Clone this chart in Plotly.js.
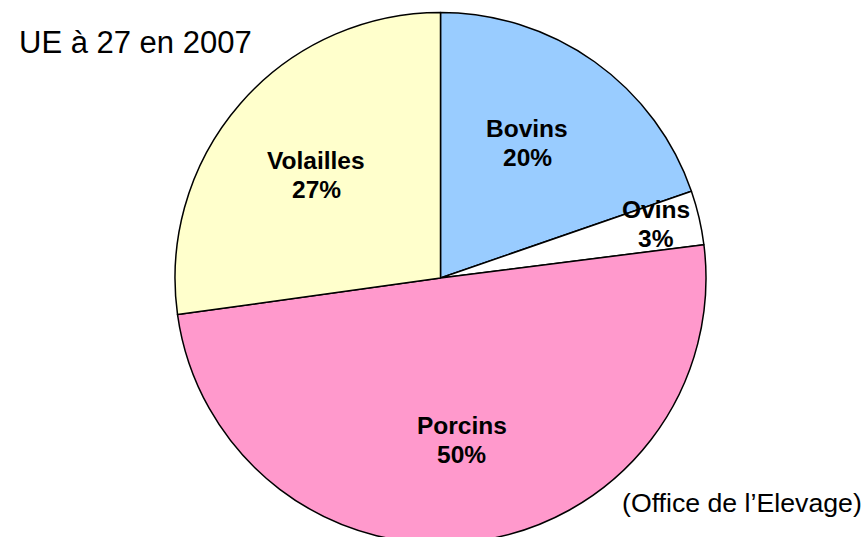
<!DOCTYPE html>
<html>
<head>
<meta charset="utf-8">
<script src="https://cdn.plot.ly/plotly-3.0.1.min.js"></script>
<style>
  html, body { margin: 0; padding: 0; overflow: hidden; background: #fff; }
  #graphDiv { width: 865px; height: 560px; }
</style>
</head>
<body>
<div id="graphDiv"></div>
<script>
var categories = ['Bovins', 'Ovins', 'Porcins', 'Volailles'];
var shares = [19.7, 3.3, 49.8, 27.2];          // slice sizes
var shareLabels = ['20%', '3%', '50%', '27%'];  // as printed on the chart
var colours = ['#99CCFF', '#FFFFFF', '#FF99CC', '#FFFFCC'];

// where each label sits, in pixels of the picture
var labelX = [527, 656, 462, 316];
var labelY = [143, 224, 440, 175];

var W = 865, H = 560;

function px(x){ return x / W; }
function py(y){ return 1 - y / H; }

var slices = {
  type: 'pie',
  labels: categories,
  values: shares,
  sort: false,
  direction: 'clockwise',
  rotation: 0,
  textinfo: 'none',
  hoverinfo: 'label+percent',
  marker: {
    colors: colours,
    line: { color: '#000000', width: 1.5 }
  },
  domain: { x: [px(175), px(706)], y: [py(543.5), py(12.5)] }
};

var labelFont = { family: 'Liberation Sans, Arial, sans-serif', size: 24.5, color: '#000' };

function label(x, y, txt){
  return {
    xref: 'paper', yref: 'paper',
    x: px(x), y: py(y),
    xanchor: 'center', yanchor: 'middle',
    showarrow: false,
    text: '<b>' + txt + '</b>',
    font: labelFont
  };
}

var notes = [];
for (var i = 0; i < categories.length; i++) {
  notes.push(label(labelX[i], labelY[i] - 14.5, categories[i]));
  notes.push(label(labelX[i], labelY[i] + 14.5, shareLabels[i]));
}

notes.push({
  xref: 'paper', yref: 'paper',
  x: px(17), y: py(43),
  xanchor: 'left', yanchor: 'middle',
  showarrow: false,
  text: 'UE à 27 en 2007',
  font: { family: 'Liberation Sans, Arial, sans-serif', size: 31, color: '#000' }
});

notes.push({
  xref: 'paper', yref: 'paper',
  x: px(864), y: py(503),
  xanchor: 'right', yanchor: 'middle',
  showarrow: false,
  text: '(Office de l\u2019Elevage)',
  font: { family: 'Liberation Sans, Arial, sans-serif', size: 26.7, color: '#000' }
});

var layout = {
  width: W,
  height: H,
  margin: { l: 0, r: 0, t: 0, b: 0 },
  showlegend: false,
  paper_bgcolor: '#ffffff',
  annotations: notes
};

Plotly.newPlot('graphDiv', [slices], layout, { displayModeBar: false, staticPlot: true });
</script>
</body>
</html>
